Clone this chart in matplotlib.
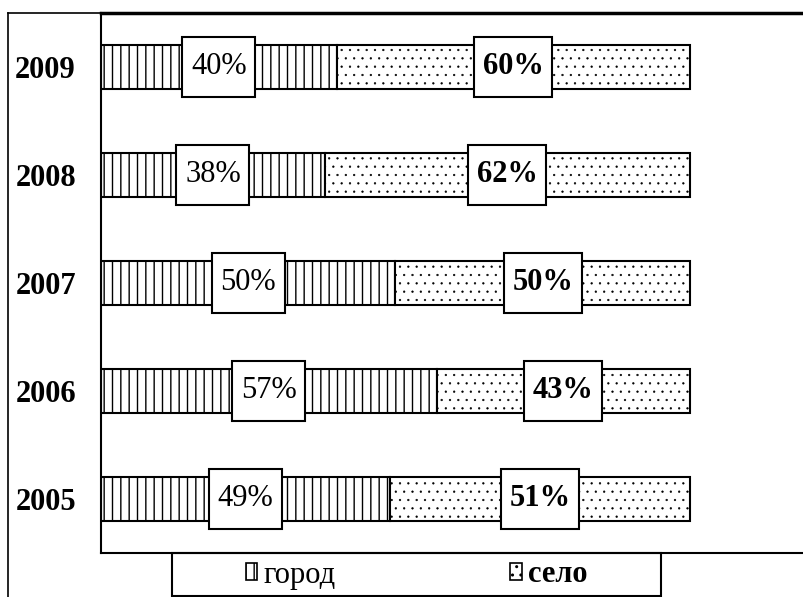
import numpy as np
import matplotlib
matplotlib.use('Agg')
import matplotlib.pyplot as plt
from matplotlib.patches import Patch, Rectangle
from matplotlib.lines import Line2D
from matplotlib.path import Path

plt.rcParams['font.family'] = ['Liberation Serif', 'DejaVu Serif']
plt.rcParams['hatch.linewidth'] = 1.0

# данные
years = ['2005', '2006', '2007', '2008', '2009']
gorod = [49, 57, 50, 38, 40]
selo = [51, 43, 50, 62, 60]
series_names = ['город', 'село']

W, H = 804, 597
fig = plt.figure(figsize=(W / 100, H / 100), dpi=100)

# оси: слева x=101, снизу y=553, сверху y=13 (в пикселях картинки)
ax = fig.add_axes([101 / W, 1 - 553 / H, 720 / W, 540 / H])


def tall_box(x0, y0, width, height, mutation_size):
    # рамка подписи: по вертикали отступ больше, чем по горизонтали
    px, py = 0.28 * mutation_size, 0.5 * mutation_size
    x0, y0 = x0 - px, y0 - py
    x1, y1 = x0 + width + 2 * px, y0 + height + 2 * py
    return Path([(x0, y0), (x1, y0), (x1, y1), (x0, y1), (x0, y0)], closed=True)


y = np.arange(len(years))
h = 0.41
b1 = ax.barh(y, gorod, height=h, color='white', edgecolor='black', hatch='||', lw=1.5)
b2 = ax.barh(y, selo, left=gorod, height=h, color='white', edgecolor='black', hatch='..', lw=1.5)
for p in b2:
    if hasattr(p, 'set_hatch_linewidth'):
        p.set_hatch_linewidth(0.4)

box = dict(boxstyle=tall_box, fc='white', ec='black', lw=1.5)
for i in range(len(years)):
    ax.text(gorod[i] / 2, y[i], '%d%%' % gorod[i], ha='center', va='center',
            fontsize=22, bbox=box)
    ax.text(gorod[i] + selo[i] / 2, y[i], '%d%%' % selo[i], ha='center', va='center',
            fontsize=22, fontweight='bold', bbox=box)

ax.set_xlim(0, 720 / 5.89)
ax.set_ylim(-0.5, len(years) - 0.5)
ax.set_xticks([])
ax.set_yticks(y)
ax.set_yticklabels(years, fontsize=22, fontweight='bold')
ax.tick_params(axis='y', length=0, pad=18)

ax.spines['right'].set_visible(False)
ax.spines['left'].set_linewidth(1.5)
ax.spines['bottom'].set_linewidth(1.5)
ax.spines['top'].set_linewidth(2.5)

# рамка слева и сверху
fig.add_artist(Line2D([8 / W, 8 / W], [1 - 13 / H, 0], color='black', lw=1.2))
fig.add_artist(Line2D([8 / W, 101 / W], [1 - 13 / H, 1 - 13 / H], color='black', lw=1.2))

# легенда
handles = [Patch(fc='white', ec='black', hatch='||', lw=1.2),
           Patch(fc='white', ec='black', hatch='..', lw=1.2)]
leg = fig.legend(handles, series_names, loc='center', ncol=2, frameon=False,
                 bbox_to_anchor=(416.5 / W, 1 - 575 / H), fontsize=22,
                 handlelength=0.38, handleheight=0.5, handletextpad=0.2,
                 columnspacing=5.7, borderpad=0, borderaxespad=0)
leg.get_texts()[1].set_fontweight('bold')
fig.add_artist(Rectangle((172 / W, 1 - 596 / H), 489 / W, 43 / H,
                         transform=fig.transFigure, fill=False, ec='black', lw=1.5))

fig.savefig('out.png', dpi=100)
